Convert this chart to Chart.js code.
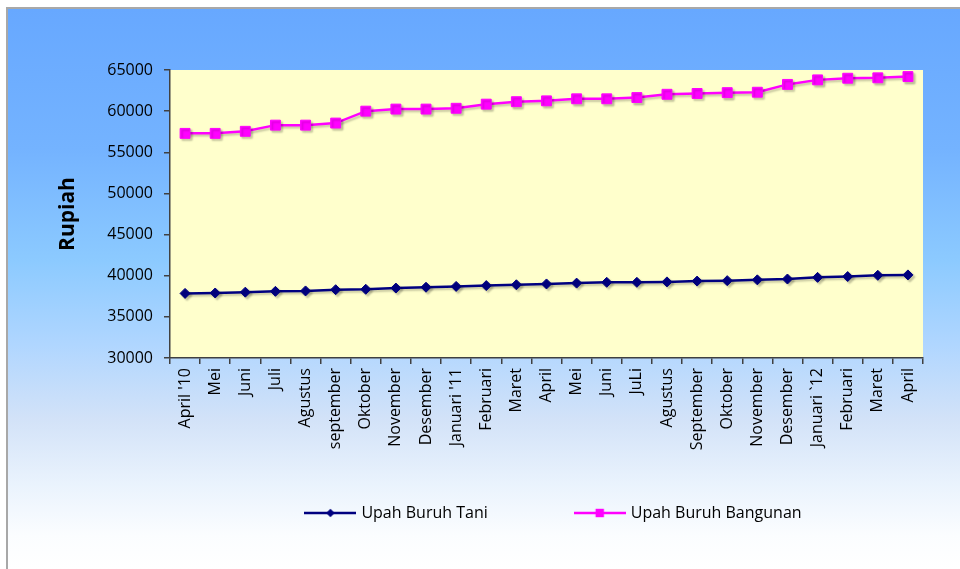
<!DOCTYPE html>
<html>
<head>
<meta charset="utf-8">
<title>Upah Buruh</title>
<script src="https://cdn.jsdelivr.net/npm/chart.js@4/dist/chart.umd.min.js"></script>
<style>
  html, body { margin: 0; padding: 0; background: #ffffff; }
  #frame {
    position: absolute; left: 6px; top: 7px; width: 954px; height: 562px;
    box-sizing: border-box;
    border-top: 2px solid #a8a8a8; border-left: 2px solid #a8a8a8;
    background: linear-gradient(to bottom,
      #67a8ff 0%, #74b3ff 25%, #8ccaff 45%, #b0d6ff 60%,
      #d2e2f8 73%, #eaf3fd 85%, #fbfdff 94%, #ffffff 100%);
  }
  #chart { position: absolute; left: 0; top: 0; }
</style>
</head>
<body>
<div id="frame"></div>
<canvas id="chart" width="960" height="569"></canvas>
<script>
// Bulan pengamatan, April 2010 - April 2012
const months = [
  "April '10", "Mei", "Juni", "Juli", "Agustus", "september", "Oktober",
  "November", "Desember", "Januari '11", "Februari", "Maret", "April",
  "Mei", "Juni", "JuLi", "Agustus", "September", "Oktober", "November",
  "Desember", "Januari `12", "Februari", "Maret", "April"
];

// Upah harian (Rupiah)
const upahBuruhTani = [
  37850, 37900, 38000, 38100, 38150, 38300, 38350, 38500, 38600, 38700,
  38800, 38900, 39000, 39100, 39200, 39200, 39250, 39350, 39400, 39500,
  39600, 39800, 39900, 40050, 40100
];
const upahBuruhBangunan = [
  57300, 57300, 57550, 58300, 58300, 58550, 60000, 60250, 60250, 60350,
  60850, 61150, 61250, 61500, 61500, 61650, 62050, 62150, 62250, 62300,
  63250, 63800, 64000, 64050, 64200
];

// Sumbu nilai
const yMin = 30000;
const yMax = 65000;
const yStep = 5000;

const FONT = "'Open Sans', 'DejaVu Sans', sans-serif";
const AXIS = '#404040';

const seriesStyle = [
  { label: 'Upah Buruh Tani', color: '#000080', marker: 'rectRot', radius: 5 },
  { label: 'Upah Buruh Bangunan', color: '#ff00ff', marker: 'rect', radius: 7 }
];

// Small line + marker sample used as the legend symbol
function legendIcon(style) {
  const c = document.createElement('canvas');
  c.width = 52; c.height = 16;
  const g = c.getContext('2d');
  g.strokeStyle = style.color;
  g.lineWidth = 2.5;
  g.beginPath(); g.moveTo(0, 8); g.lineTo(52, 8); g.stroke();
  g.fillStyle = style.color;
  const r = style.radius * 0.85;
  if (style.marker === 'rect') {
    const s = r * Math.SQRT1_2;
    g.fillRect(26 - s, 8 - s, 2 * s, 2 * s);
  } else {
    g.beginPath();
    g.moveTo(26, 8 - r); g.lineTo(26 + r, 8); g.lineTo(26, 8 + r); g.lineTo(26 - r, 8);
    g.closePath(); g.fill();
  }
  return c;
}

const plotBackground = {
  id: 'plotBackground',
  beforeDraw(chart) {
    const { ctx, chartArea: a } = chart;
    ctx.save();
    ctx.fillStyle = '#ffffcc';
    ctx.fillRect(a.left, a.top, a.right - a.left, a.bottom - a.top);
    ctx.restore();
  }
};

const lineShadow = {
  id: 'lineShadow',
  beforeDatasetsDraw(chart) {
    const ctx = chart.ctx;
    ctx.save();
    ctx.shadowColor = 'rgba(0,0,0,0.22)';
    ctx.shadowOffsetX = 2;
    ctx.shadowOffsetY = 2;
    ctx.shadowBlur = 2;
  },
  afterDatasetsDraw(chart) {
    chart.ctx.restore();
  }
};

// Centre the legend row under the plot, and let the long
// rotated month names run past the bottom of the axis box
const layoutTweaks = {
  id: 'layoutTweaks',
  afterLayout(chart) {
    if (chart.legend) {
      chart.legend.left = 149;
      chart.legend.right = 960;
    }
    chart.scales.x.bottom = chart.height;
  }
};

const datasets = [upahBuruhTani, upahBuruhBangunan].map((values, i) => ({
  label: seriesStyle[i].label,
  data: values,
  borderColor: seriesStyle[i].color,
  backgroundColor: seriesStyle[i].color,
  borderWidth: 2.5,
  pointStyle: seriesStyle[i].marker,
  pointRadius: seriesStyle[i].radius,
  pointHoverRadius: seriesStyle[i].radius,
  pointBorderWidth: 1,
  tension: 0
}));

new Chart(document.getElementById('chart').getContext('2d'), {
  type: 'line',
  data: { labels: months, datasets },
  plugins: [plotBackground, lineShadow, layoutTweaks],
  options: {
    responsive: false,
    animation: false,
    events: [],
    layout: { padding: { top: 70, right: 37, bottom: 38, left: 0 } },
    plugins: {
      tooltip: { enabled: false },
      legend: {
        position: 'bottom',
        labels: {
          usePointStyle: true,
          pointStyleWidth: 46,
          padding: 89,
          color: '#000000',
          font: { family: FONT, size: 16 },
          generateLabels(chart) {
            return chart.data.datasets.map((ds, i) => ({
              text: ds.label,
              datasetIndex: i,
              pointStyle: legendIcon(seriesStyle[i]),
              fillStyle: ds.borderColor,
              strokeStyle: ds.borderColor,
              lineWidth: 0,
              hidden: false,
              fontColor: '#000000'
            }));
          }
        }
      }
    },
    scales: {
      x: {
        offset: true,
        grid: { offset: true, drawOnChartArea: false, tickLength: 6, color: AXIS, lineWidth: 1.5 },
        border: { color: AXIS, width: 1.5 },
        ticks: {
          autoSkip: false, minRotation: 90, maxRotation: 90, padding: 4,
          color: '#000000', font: { family: FONT, size: 16 }
        },
        afterFit(scale) { scale.height = 58; }
      },
      y: {
        min: yMin, max: yMax,
        grid: { drawOnChartArea: false, tickLength: 6, color: AXIS, lineWidth: 1.5 },
        border: { color: AXIS, width: 1.5 },
        ticks: {
          stepSize: yStep, padding: 11, color: '#000000',
          font: { family: FONT, size: 16 },
          callback: (v) => String(v)
        },
        title: {
          display: true, text: 'Rupiah', color: '#000000',
          font: { family: FONT, size: 21, weight: 'bold' },
          padding: { top: 55, bottom: 0 }
        },
        afterFit(scale) { scale.width = 170; }
      }
    }
  }
});
</script>
</body>
</html>
